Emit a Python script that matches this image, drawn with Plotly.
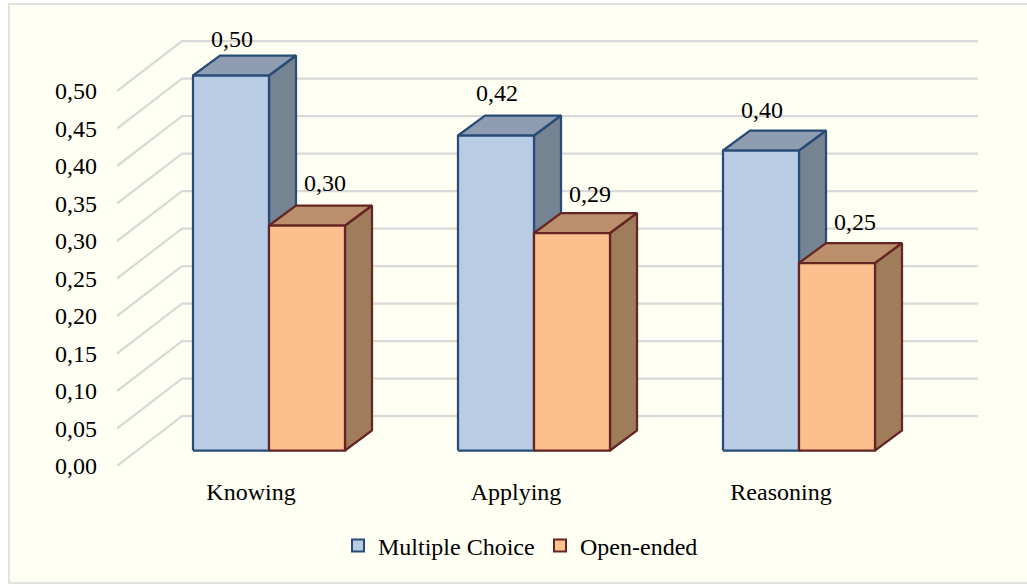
import plotly.graph_objects as go

categories = ["Knowing", "Applying", "Reasoning"]
multiple_choice = [0.50, 0.42, 0.40]
open_ended = [0.30, 0.29, 0.25]
y_ticks = [0.00, 0.05, 0.10, 0.15, 0.20, 0.25, 0.30, 0.35, 0.40, 0.45, 0.50]

W, H = 1027, 585
PX_X = 265.0   # pixels per category
PX_Y = 750.0   # pixels per unit of value
L, R, T, B = 117, 978, 20, 466
FONT = "Liberation Serif"
FS = 24

x0 = -(251 - L) / PX_X
x1 = x0 + (R - L) / PX_X
y1 = (B - T) / PX_Y

bar_w = 76 / PX_X
group_shift = 18 / PX_X
depth_x, depth_y = 27 / PX_X, 20 / PX_Y
floor_y = 15.5 / PX_Y
wall_x, wall_y = 65 / PX_X, 50 / PX_Y

fig = go.Figure()

# gridlines
gx, gy = [], []
for t in y_ticks:
    gx += [x0, x0 + wall_x, x1, None]
    gy += [t, t + wall_y, t + wall_y, None]
fig.add_trace(go.Scatter(x=gx, y=gy, mode="lines", line=dict(color="#D9D9D9", width=2.25),
                         showlegend=False, hoverinfo="skip"))


def face(xs, ys, fill, edge):
    fig.add_trace(go.Scatter(x=xs + xs[:1], y=ys + ys[:1], mode="lines", fill="toself",
                             fillcolor=fill, line=dict(color=edge, width=2.25),
                             showlegend=False, hoverinfo="skip"))


series = [
    dict(name="Multiple Choice", values=multiple_choice, front="#B8CCE4", top="#8E9DB2", side="#758493",
         edge="#294C76", start=-bar_w, ldx=1, ldy=[35, 41, 39]),
    dict(name="Open-ended", values=open_ended, front="#FBC08E", top="#BB8F6B", side="#9F7D5B",
         edge="#652523", start=0.0, ldx=18, ldy=[41, 37, 39]),
]

for i in range(len(categories)):
    for s in series:
        v = s["values"][i]
        a = i + group_shift + s["start"]
        b = a + bar_w
        bot = floor_y
        top = floor_y + v
        face([b, b + depth_x, b + depth_x, b], [bot, bot + depth_y, top + depth_y, top], s["side"], s["edge"])
        face([a, a + depth_x, b + depth_x, b], [top, top + depth_y, top + depth_y, top], s["top"], s["edge"])
        face([a, b, b, a], [bot, bot, top, top], s["front"], s["edge"])

# data labels
for s in series:
    xs, ys, txt = [], [], []
    for i, v in enumerate(s["values"]):
        xs.append(i + group_shift + s["start"] + bar_w / 2 + s["ldx"] / PX_X)
        ys.append(floor_y + v + s["ldy"][i] / PX_Y)
        txt.append(f"{v:.2f}".replace(".", ","))
    fig.add_trace(go.Scatter(x=xs, y=ys, mode="text", text=txt, textposition="middle center",
                             textfont=dict(family=FONT, size=FS, color="#000000"),
                             showlegend=False, hoverinfo="skip", cliponaxis=False))

# legend entries
for s in series:
    fig.add_trace(go.Scatter(x=[None], y=[None], mode="markers", name=s["name"],
                             marker=dict(symbol="square", size=12, color=s["front"],
                                         line=dict(color=s["edge"], width=2))))

fig.update_layout(
    width=W, height=H,
    margin=dict(l=0, r=0, t=0, b=0, autoexpand=False),
    paper_bgcolor="#FFFFFF",
    plot_bgcolor="rgba(0,0,0,0)",
    separators=",.",
    font=dict(family=FONT, size=FS, color="#000000"),
    xaxis=dict(domain=[L / W, R / W], range=[x0, x1], tickmode="array", tickvals=list(range(len(categories))),
               ticktext=categories, showgrid=False, zeroline=False, showline=False, ticks="",
               ticklabelstandoff=9, fixedrange=True, automargin=False),
    yaxis=dict(domain=[(H - B) / H, (H - T) / H], range=[0, y1], tickmode="array", tickvals=y_ticks,
               tickformat=".2f", showgrid=False, zeroline=False, showline=False, ticks="",
               ticklabelstandoff=19, fixedrange=True, automargin=False),
    showlegend=True,
    legend=dict(orientation="h", x=338 / W, xanchor="left", y=(H - 546) / H, yanchor="middle",
                bgcolor="rgba(0,0,0,0)", entrywidth=157, entrywidthmode="pixels",
                font=dict(family=FONT, size=FS)),
    shapes=[dict(type="rect", xref="paper", yref="paper", x0=9 / W, x1=1.01, y0=(H - 583) / H, y1=(H - 4) / H,
                 fillcolor="#FFFFF3", line=dict(color="#D9D9D9", width=1.5), layer="below")],
)

fig.write_html("out.html", config={"displayModeBar": False},
               post_script="document.body.style.margin='0';document.documentElement.style.overflow='hidden';")
